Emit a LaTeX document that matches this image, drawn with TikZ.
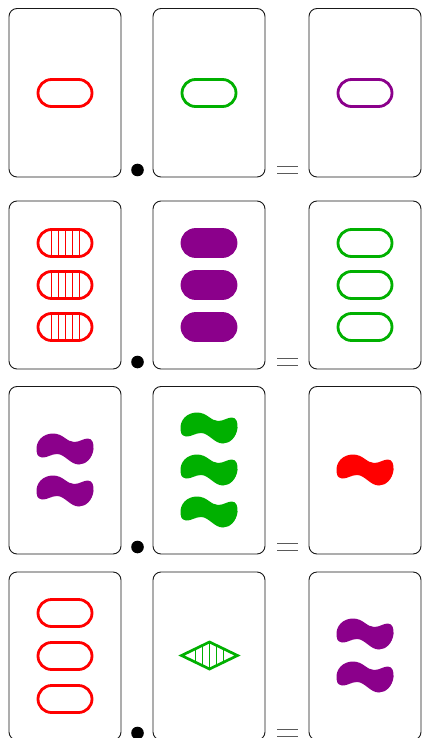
\documentclass[tikz,border=0pt]{standalone}
\definecolor{setred}{RGB}{255,0,0}
\definecolor{setgreen}{RGB}{0,176,0}
\definecolor{setpurple}{RGB}{139,0,139}
\definecolor{eqgray}{RGB}{90,90,90}
\begin{document}
\begin{tikzpicture}[x=1pt,y=-1pt,
  card/.style={draw=black!90,line width=0.9pt,rounded corners=8pt,fill=white},
  dotmark/.style={fill=black},
  eqline/.style={draw=eqgray,line width=1.9pt},
  shapeline/.style={line width=2.8pt},
  stripe/.style={line width=0.9pt},
  pics/ovalopen/.style={code={
    \draw[shapeline,draw=#1,rounded corners=13.5pt] (-27,-13.5) rectangle (27,13.5);
  }},
  pics/ovalfill/.style={code={
    \filldraw[shapeline,draw=#1,fill=#1,rounded corners=13.5pt] (-27,-13.5) rectangle (27,13.5);
  }},
  pics/ovalstripe/.style={code={
    \begin{scope}
      \clip[rounded corners=13.5pt] (-27,-13.5) rectangle (27,13.5);
      \foreach \sx in {-14,-7,0,7,14} {\draw[stripe,draw=#1] (\sx,-15) -- (\sx,15);}
    \end{scope}
    \draw[shapeline,draw=#1,rounded corners=13.5pt] (-27,-13.5) rectangle (27,13.5);
  }},
  pics/diamondstripe/.style={code={
    \begin{scope}
      \clip (-28,0) -- (0,-13.5) -- (28,0) -- (0,13.5) -- cycle;
      \foreach \sx in {-14,-7,0,7,14} {\draw[stripe,draw=#1] (\sx,-15) -- (\sx,15);}
    \end{scope}
    \draw[line width=2.7pt,draw=#1,line join=miter] (-28,0) -- (0,-13.5) -- (28,0) -- (0,13.5) -- cycle;
  }},
  pics/squig/.style={code={
    \fill[#1] (-28.5,2)
      .. controls (-29.5,-8) and (-22,-15.5) .. (-12,-15.5)
      .. controls (-2,-15.5) and (2,-7) .. (9,-7)
      .. controls (15,-7) and (18,-10.5) .. (23,-10.5)
      .. controls (27.5,-10.5) and (29,-5) .. (28.5,0)
      .. controls (27.5,9) and (21,15.5) .. (14,15.5)
      .. controls (5,15.5) and (0,5) .. (-8,5)
      .. controls (-14,5) and (-18,9) .. (-23,8.5)
      .. controls (-27.5,7.5) and (-28.5,5) .. (-28.5,2) -- cycle;
  }}
]
\useasboundingbox (0,0) rectangle (425,738);
\fill[white] (0,0) rectangle (425,738);

% row tops and bottoms
\foreach \t/\b [count=\r] in {8.5/177, 201/369, 386.5/554, 572/740} {
  \draw[card] (9,\t) rectangle (121,\b);
  \draw[card] (153,\t) rectangle (265,\b);
  \draw[card] (309,\t) rectangle (421,\b);
  \fill[dotmark] (137.5,\b-7) circle (6.3);
  \draw[eqline] (277,\b-10.5) -- (298,\b-10.5);
  \draw[eqline] (277,\b-3.5) -- (298,\b-3.5);
}

% Row 1
\pic at (65,93) {ovalopen=setred};
\pic at (209,93) {ovalopen=setgreen};
\pic at (365,93) {ovalopen=setpurple};

% Row 2
\foreach \yy in {243,285,327} {
  \pic at (65,\yy) {ovalstripe=setred};
  \pic at (209,\yy) {ovalfill=setpurple};
  \pic at (365,\yy) {ovalopen=setgreen};
}

% Row 3
\pic at (65,449) {squig=setpurple};
\pic at (65,491) {squig=setpurple};
\pic at (209,428) {squig=setgreen};
\pic at (209,470) {squig=setgreen};
\pic at (209,512) {squig=setgreen};
\pic at (365,470) {squig=setred};

% Row 4
\pic at (65,613) {ovalopen=setred};
\pic at (65,656) {ovalopen=setred};
\pic at (65,699) {ovalopen=setred};
\pic at (209.5,655.5) {diamondstripe=setgreen};
\pic at (365,634) {squig=setpurple};
\pic at (365,677) {squig=setpurple};
\end{tikzpicture}
\end{document}
